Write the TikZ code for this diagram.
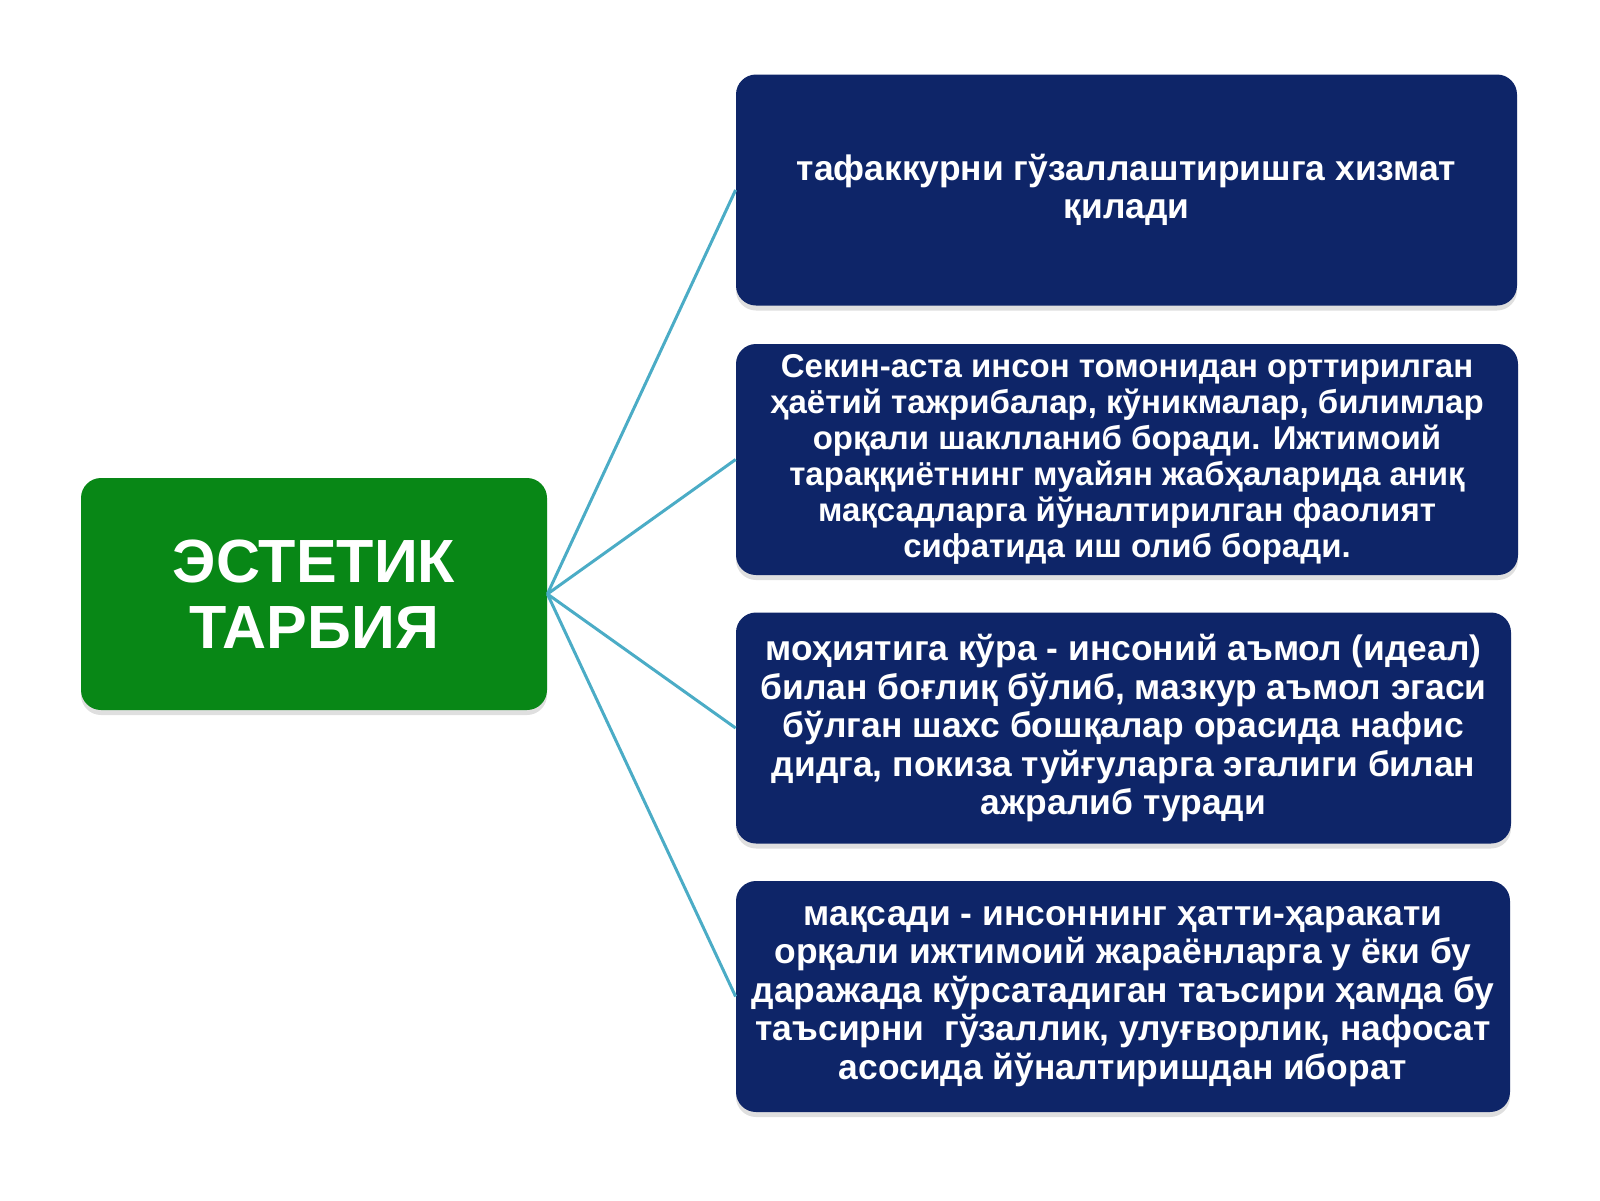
\documentclass[tikz,border=0pt]{standalone}
\usepackage{fontspec}
\setmainfont{Liberation Sans}
\usetikzlibrary{shadows}

\definecolor{tgreen}{RGB}{8,135,22}
\definecolor{tnavy}{RGB}{14,37,104}
\definecolor{tline}{RGB}{75,172,198}

\begin{document}
\begin{tikzpicture}[
    x = 0.5pt,
    y = -0.5pt,
    link/.style = {
      draw = tline,
      line width = 1.5pt
    },
    topic/.style = {
      fill = tgreen,
      rounded corners = 10pt,
      minimum width = 233pt,
      minimum height = 116pt,
      text = white,
      align = center,
      font = \bfseries\fontsize{30.5pt}{33pt}\selectfont,
      drop shadow = {shadow xshift = 0pt, shadow yshift = -2.5pt, opacity = 0.25}
    },
    point/.style = {
      fill = tnavy,
      rounded corners = 10pt,
      minimum height = 115.5pt,
      text = white,
      align = center,
      font = \bfseries\fontsize{17.7pt}{19.25pt}\selectfont,
      drop shadow = {shadow xshift = 0pt, shadow yshift = -2.5pt, opacity = 0.25}
    },
    small/.style = {
      font = \bfseries\fontsize{16.5pt}{18pt}\selectfont
    }
  ]
  \useasboundingbox (0,0) rectangle (1600,1200);

  \node[topic] (tarbiya) at (314,594) {ЭСТЕТИК\\ТАРБИЯ};

  \node[point, minimum width = 390.5pt] (tafakkur) at (1126.5,190)
    {тафаккурни гўзаллаштиришга хизмат\\қилади};
  \node[point, small, minimum width = 391pt] (sekin) at (1127,459.5)
    {Секин-аста инсон томонидан орттирилган\\ҳаётий тажрибалар, кўникмалар, билимлар\\орқали шаклланиб боради. Ижтимоий\\тараққиётнинг муайян жабҳаларида аниқ\\мақсадларга йўналтирилган фаолият\\сифатида иш олиб боради.};
  \node[point, minimum width = 387.5pt] (mohiyat) at (1123.5,728)
    {моҳиятига кўра - инсоний аъмол (идеал)\\билан боғлиқ бўлиб, мазкур аъмол эгаси\\бўлган шахс бошқалар орасида нафис\\дидга, покиза туйғуларга эгалиги билан\\ажралиб туради};
  \node[point, minimum width = 387pt] (maqsad) at (1123,996.5)
    {мақсади - инсоннинг ҳатти-ҳаракати\\орқали ижтимоий жараёнларга у ёки бу\\даражада кўрсатадиган таъсири ҳамда бу\\таъсирни\ \ гўзаллик, улуғворлик, нафосат\\асосида йўналтиришдан иборат};

  \draw[link] (tarbiya.east) -- (tafakkur.west);
  \draw[link] (tarbiya.east) -- (sekin.west);
  \draw[link] (tarbiya.east) -- (mohiyat.west);
  \draw[link] (tarbiya.east) -- (maqsad.west);
\end{tikzpicture}
\end{document}
